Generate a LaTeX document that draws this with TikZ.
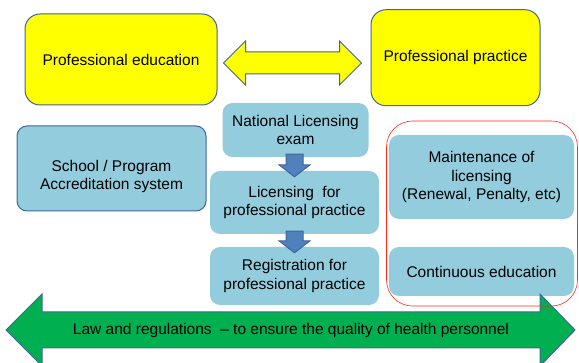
\documentclass[tikz,border=0pt]{standalone}
\usepackage{fontspec}
\setmainfont{Liberation Sans}
\usetikzlibrary{calc}

\definecolor{boxyellow}{HTML}{FFFF00}
\definecolor{edgeblue}{HTML}{41659A}
\definecolor{lightblue}{HTML}{93CDDD}
\definecolor{arrowblue}{HTML}{4F81BD}
\definecolor{lawgreen}{HTML}{00B050}
\definecolor{groupred}{HTML}{FF2A1A}

\begin{document}
\begin{tikzpicture}[x=1pt, y=-1pt, font=\fontsize{15.5}{18.5}\selectfont,
  box/.style={rectangle, rounded corners=10pt, align=center, inner sep=2pt},
  yellowbox/.style={box, fill=boxyellow, draw=edgeblue, line width=1pt, rounded corners=15pt},
  bluebox/.style={box, fill=lightblue},
  blockarrow/.style={draw=edgeblue, line width=1pt, line join=miter}]
  \useasboundingbox (0,0) rectangle (579,363);

  % Define blocks
  \node[yellowbox, minimum width=192pt, minimum height=91pt] (edu) at (121,59.5) {Professional education};
  \node[yellowbox, minimum width=169pt, minimum height=96pt] (prac) at (455.5,57.75) {Professional practice};

  \node[bluebox, draw=edgeblue, line width=1pt, minimum width=189pt, minimum height=85pt] (school) at (111.5,168.5)
    {\rule{0pt}{27pt}School / Program\\Accreditation system};
  \node[bluebox, minimum width=146pt, minimum height=54pt] (exam) at (295.5,130) {National Licensing\\exam};
  \node[bluebox, minimum width=169pt, minimum height=63pt] (lic) at (294.5,202.5) {Licensing\ \ for\\professional practice};
  \node[bluebox, minimum width=169pt, minimum height=58pt] (reg) at (294.5,276) {Registration for\\professional practice};

  \node[bluebox, minimum width=185pt, minimum height=84pt] (maint) at (481.5,177) {Maintenance of\\licensing\\(Renewal, Penalty, etc)};
  \node[bluebox, minimum width=185pt, minimum height=49pt] (cont) at (481.5,271.5) {Continuous education};

  % Connect blocks with block arrows
  \coordinate (left) at ($(edu.east)+(6,3.5)$);
  \coordinate (right) at ($(prac.west)+(-9,5.25)$);
  \draw[blockarrow, fill=boxyellow] (left) -- ++(22,-22) -- ++(0,11) -- ($(right)+(-22,-11)$) -- ++(0,-11)
    -- (right) -- ++(-22,22) -- ++(0,-11) -- ($(left)+(22,11)$) -- ++(0,11) -- cycle;

  \foreach \a/\b in {exam/lic, lic/reg}
    \draw[blockarrow, fill=arrowblue] ($(\b.north |- \a.south)+(-8.5,-3)$) -- ++(17,0)
      -- ($(\b.north)+(8.5,-6)$) -- ++(7,0) -- ($(\b.north)+(0,6)$) -- ($(\b.north)+(-15.5,-6)$)
      -- ++(7,0) -- cycle;

  % Law and regulations
  \draw[blockarrow, fill=lawgreen] (6,330) -- (42,294) -- (42,312) -- (540,312) -- (540,294) -- (575,330)
    -- (540,366) -- (540,348) -- (42,348) -- (42,366) -- cycle;
  \node (law) at (291,330) {Law and regulations\ \ \textendash\ to ensure the quality of health personnel};

  \node[draw=groupred, line width=0.6pt, rounded corners=26pt, minimum width=191pt, minimum height=185pt] (upkeep) at (482,213.5) {};
\end{tikzpicture}
\end{document}
